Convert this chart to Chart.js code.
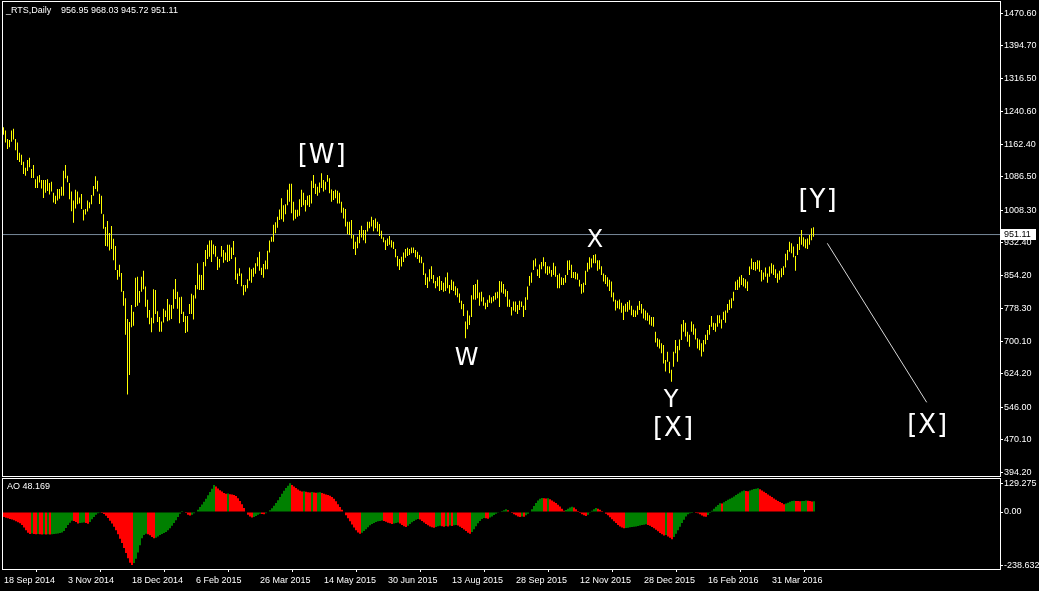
<!DOCTYPE html>
<html><head><meta charset="utf-8">
<script src="https://cdn.jsdelivr.net/npm/chart.js@4.4.0/dist/chart.umd.min.js"></script>
<style>
html,body{margin:0;padding:0;background:#000;overflow:hidden;}
#wrap{position:relative;width:1039px;height:591px;background:#000;}
canvas{position:absolute;left:0;}
#main{top:0;}
#ao{top:477px;}
</style></head><body>
<div id="wrap"><canvas id="main" width="1039" height="477"></canvas><canvas id="ao" width="1039" height="114"></canvas></div>
<script>
// ---------- DATA ----------
const symbolTitle = "_RTS,Daily";
const lastOHLC = [956.95, 968.03, 945.72, 951.11];
const aoLast = 48.169;

const lows = [
1185,1167,1152,1156,1169,1174,1149,1126,1121,1114,
1093,1089,1100,1109,1084,1084,1060,1060,1073,1059,
1037,1049,1053,1045,1052,1026,1023,1031,1035,1042,
1042,1083,1074,1034,1006,979,1012,1022,1024,1011,
984,998,1005,1013,1022,1042,1058,1052,1023,1000,
965,924,923,914,917,891,868,845,852,817,
784,716,576,622,734,737,781,784,791,817,
823,782,756,741,722,743,765,746,723,723,
745,758,748,750,753,777,800,777,743,765,
746,720,723,765,765,752,801,823,821,821,
821,877,894,899,887,905,899,868,874,899,
885,891,887,889,894,903,845,835,854,830,
809,817,825,843,838,852,859,877,866,856,
850,870,870,909,934,934,954,967,985,987,
981,999,1020,1028,1001,984,988,993,995,1016,
1020,1005,1020,1016,1024,1060,1046,1042,1049,1060,
1052,1056,1075,1048,1028,1032,1036,1024,1024,1002,
989,970,952,950,942,917,903,919,931,944,
938,931,958,966,970,959,966,958,948,941,
933,915,924,927,921,917,898,877,868,876,
887,897,901,903,907,908,898,894,885,884,
856,833,826,841,847,837,825,830,819,821,
817,819,825,813,821,819,809,804,791,776,
760,708,729,739,758,799,798,802,784,794,
784,776,781,791,790,794,798,802,781,815,
812,805,782,781,761,773,770,765,774,781,
758,774,798,831,838,868,876,854,849,870,
877,860,856,860,852,856,852,825,825,833,
833,838,856,868,849,849,846,845,829,812,
815,833,864,870,874,884,884,866,870,856,
841,835,829,819,804,794,773,778,776,768,
751,770,770,775,762,758,758,763,774,766,
754,750,749,740,737,735,698,688,684,673,
649,630,653,626,606,641,673,653,680,704,
723,712,700,688,723,716,705,684,680,665,
676,694,704,716,735,727,723,735,743,731,
751,744,768,774,778,796,821,821,827,833,
829,825,819,856,870,868,866,870,864,841,
845,852,838,852,860,856,849,838,845,851,
856,874,891,911,907,898,866,903,915,927,
923,919,917,927,938,945.72];

const highs = [
1203,1195,1175,1173,1195,1199,1175,1167,1143,1138,
1122,1108,1126,1131,1105,1114,1081,1088,1091,1079,
1079,1079,1081,1072,1075,1049,1042,1058,1058,1063,
1101,1114,1089,1072,1052,1031,1056,1052,1038,1046,
1009,1011,1031,1027,1044,1065,1088,1077,1047,1042,
999,969,983,955,971,941,924,868,880,861,
819,802,753,746,786,770,850,852,819,852,
866,829,798,774,756,823,821,771,758,747,
777,773,800,787,786,823,847,817,804,805,
770,760,760,788,812,809,833,884,857,856,
887,915,927,937,938,928,924,899,894,924,
915,909,927,927,921,936,898,860,872,860,
833,833,846,874,870,873,884,898,911,873,
882,890,913,937,946,974,980,993,1010,1036,
1020,1022,1056,1070,1070,1028,1009,1009,1034,1056,
1049,1032,1042,1044,1077,1091,1070,1063,1073,1095,
1079,1075,1091,1083,1057,1053,1056,1054,1049,1028,
1014,1011,981,981,985,950,934,946,962,972,
962,962,981,981,993,985,989,981,976,960,
945,938,942,948,938,934,917,901,894,899,
909,917,920,917,921,921,915,911,903,899,
885,860,851,870,877,856,842,851,854,842,
838,851,862,833,845,841,830,825,813,796,
788,747,773,761,809,833,835,845,815,817,
804,791,798,809,804,807,815,817,842,841,
835,823,819,799,781,794,794,786,796,794,
784,804,829,854,862,891,895,870,881,887,
898,887,877,876,868,885,877,856,860,851,
849,856,890,891,880,863,863,860,845,835,
838,866,885,898,895,903,905,891,891,877,
860,856,851,845,841,815,798,796,799,791,
784,789,793,797,784,775,773,784,795,788,
777,773,768,762,758,758,723,708,705,696,
692,657,676,653,634,676,704,690,705,741,
751,744,723,716,747,741,731,708,705,696,
704,716,727,739,760,744,743,762,762,752,
770,773,788,798,802,817,841,845,852,856,
849,846,841,876,895,887,887,891,890,868,
862,874,860,876,884,880,870,860,866,872,
877,906,915,934,931,923,901,929,946,962,
945,940,942,950,966,968.03];

const aoValues = [
-22,-26,-28,-31,-34,-37,-42,-46,-51,-58,
-70,-82,-93,-99,-97,-99,-100,-99,-100,-101,
-100,-101,-100,-101,-100,-99,-98,-97,-95,-92,
-85,-72,-58,-48,-39,-40,-45,-52,-50,-48,
-47,-50,-53,-45,-33,-22,-12,-6,-3,-5,
-9,-17,-27,-39,-52,-66,-82,-100,-120,-140,
-162,-185,-208,-228,-238.632,-230,-210,-182,-150,-118,
-103,-98,-100,-105,-112,-118,-116,-110,-104,-99,
-95,-90,-82,-73,-62,-50,-37,-22,-8,5,
2,-5,-12,-16,-12,-6,2,10,22,34,
46,60,75,90,105,121,115,106,98,92,
86,82,83,80,79,77,72,62,50,35,
18,0,-12,-20,-25,-22,-18,-12,-8,-9,
-10,-6,0,8,17,28,40,53,67,82,
96,108,118,129.275,122,115,108,101,96,92,
93,91,89,88,90,88,87,88,89,86,
82,79,76,73,68,60,48,35,22,10,
-2,-15,-28,-42,-56,-70,-82,-92,-98,-93,
-86,-78,-69,-60,-54,-49,-45,-42,-40,-38,
-40,-44,-48,-51,-54,-52,-49,-47,-52,-58,
-64,-68,-62,-54,-46,-40,-35,-31,-34,-40,
-47,-54,-60,-65,-69,-71,-67,-64,-62,-64,
-66,-63,-65,-61,-63,-60,-58,-61,-66,-72,
-79,-86,-93,-98,-90,-78,-64,-51,-40,-32,
-27,-28,-30,-25,-20,-14,-8,-3,2,5,
8,12,8,2,-5,-10,-15,-20,-22,-20,
-21,-15,-8,0,12,27,40,52,60,63,
62,61,62,57,52,46,40,33,25,15,
6,9,15,20,24,20,12,4,-4,-10,
-15,-18,-12,-3,6,12,18,15,10,4,
-2,-8,-15,-24,-33,-42,-50,-58,-65,-70,
-73,-72,-71,-69,-68,-66,-65,-63,-61,-59,
-57,-55,-58,-62,-67,-73,-80,-87,-94,-100,
-106,-104,-110,-116,-123,-112,-98,-82,-66,-50,
-35,-20,-10,-6,-4,-2,-4,-6,-10,-16,
-20,-21,-13,-4,6,15,24,32,39,38,
44,50,55,60,64,70,76,82,88,93,
97,95,93,97,100,103,105,107,102,97,
91,85,79,73,67,61,55,50,45,40,
35,38,42,46,49,51,50,49,48,49,
50,52,51,49,47,48.169];

const priceTicks = [1470.60,1394.70,1316.50,1240.60,1162.40,1086.50,1008.30,932.40,854.20,778.30,700.10,624.20,546.00,470.10,394.20];
const aoTickValues = [129.275, 0, -238.632];
const aoTickLabels = ["129.275", "0.00", "-238.632"];
const dateTickIndex = [0,32,64,96,128,160,192,224,256,288,320,352,384];
const dateTickLabels = ["18 Sep 2014","3 Nov 2014","18 Dec 2014","6 Feb 2015","26 Mar 2015","14 May 2015","30 Jun 2015","13 Aug 2015","28 Sep 2015","12 Nov 2015","28 Dec 2015","16 Feb 2016","31 Mar 2016"];

// wave annotations: bar index, price
const waveLabels = [
  {text:"[W]", bar:159.1, price:1138.8},
  {text:"W",   bar:231.6, price:664.6},
  {text:"X",   bar:295.75, price:943.0},
  {text:"Y",   bar:333.75, price:567.8},
  {text:"[X]", bar:334.75, price:499.8},
  {text:"[Y]", bar:407.0, price:1033.3},
  {text:"[X]", bar:461.85, price:506.4}
];
const trendLine = [{x:411.9, y:930.6},{x:461.6, y:557.7}];

// ---------- STYLE / LAYOUT ----------
const FONT = '"Liberation Sans", Arial, sans-serif';
const WAVEFONT = '"DejaVu Sans", Verdana, sans-serif';
const xMin = -0.75, xMax = 498.25;
const priceMin = 384.9, priceMax = 1498.8;
const aoMin = -256.5, aoMax = 153;

const n = Math.min(lows.length, highs.length);
const priceBars = [];
for (let i = 0; i < n; i++) priceBars.push({x:i, y:[lows[i], highs[i]]});
const aoBars = aoValues.map((v,i)=>({x:i, y:v}));
const aoColors = aoValues.map((v,i)=> (i>0 && v > aoValues[i-1]) ? '#008000' : '#FF0000');

function noPad(s){ s.paddingTop = 0; s.paddingBottom = 0; s.paddingLeft = 0; s.paddingRight = 0; }

function frame(chart){
  const {ctx, chartArea:a} = chart;
  ctx.save();
  ctx.strokeStyle = '#FFFFFF'; ctx.lineWidth = 1;
  ctx.strokeRect(a.left+0.5, a.top+0.5, a.right-a.left, a.bottom-a.top);
  ctx.restore();
}

const mainDecor = {
  id:'mainDecor',
  afterDraw(chart){
    const {ctx, chartArea:a, scales:{x,y}} = chart;
    frame(chart);
    ctx.save();
    ctx.fillStyle = '#FFFFFF';
    ctx.font = '9px ' + FONT;
    ctx.textBaseline = 'middle'; ctx.textAlign = 'left';
    ctx.fillText(symbolTitle, 6, 11);
    ctx.fillText(lastOHLC.map(v=>v.toFixed(2)).join(' '), 61, 11);
    // wave labels
    ctx.textAlign = 'center';
    waveLabels.forEach(l=>{
      const px = x.getPixelForValue(l.bar), py = y.getPixelForValue(l.price) + 2;
      if (l.text.length > 1) {
        ctx.font = '26px ' + WAVEFONT;
        if ('letterSpacing' in ctx) { ctx.letterSpacing = '1px'; ctx.fillText(l.text, px+0.5, py); ctx.letterSpacing = '0px'; }
        else ctx.fillText(l.text, px, py);
      } else {
        ctx.font = '24px ' + WAVEFONT;
        ctx.fillText(l.text, px, py + 0.5);
      }
    });
    // bid price box
    const by = Math.floor(y.getPixelForValue(lastOHLC[3]));
    ctx.fillStyle = '#FFFFFF';
    ctx.fillRect(a.right+1, by-5, 35, 11);
    ctx.fillStyle = '#000000';
    ctx.textAlign = 'left';
    ctx.font = '9px ' + FONT;
    ctx.fillText(lastOHLC[3].toFixed(2), a.right+4, by+0.5);
    ctx.restore();
  }
};

const aoDecor = {
  id:'aoDecor',
  afterDraw(chart){
    const {ctx} = chart;
    frame(chart);
    ctx.save();
    ctx.fillStyle = '#FFFFFF';
    ctx.font = '9px ' + FONT;
    ctx.textBaseline = 'middle'; ctx.textAlign = 'left';
    ctx.fillText('AO ' + aoLast.toFixed(3), 7, 10);
    ctx.restore();
  }
};

Chart.defaults.color = '#FFFFFF';
Chart.defaults.font.family = FONT;
Chart.defaults.font.size = 9;

new Chart(document.getElementById('main'), {
  type:'bar',
  data:{datasets:[
    {type:'line', data:[{x:xMin,y:lastOHLC[3]},{x:xMax,y:lastOHLC[3]}], borderColor:'#778899', borderWidth:1, pointRadius:0, order:3},
    {type:'bar', data:priceBars, backgroundColor:'#FFFF00', borderWidth:0, barThickness:1, inflateAmount:0, order:2},
    {type:'line', data:trendLine, borderColor:'#D8D8D8', borderWidth:1, pointRadius:0, order:1}
  ]},
  options:{
    responsive:false, animation:false, events:[],
    layout:{padding:{left:2, top:1, right:0, bottom:1}},
    plugins:{legend:{display:false}, tooltip:{enabled:false}},
    scales:{
      x:{type:'linear', min:xMin, max:xMax, offset:false, display:false},
      y:{type:'linear', position:'right', min:priceMin, max:priceMax,
         afterFit:s=>{s.width=39; noPad(s);},
         afterBuildTicks:s=>{s.ticks = priceTicks.slice().sort((a,b)=>a-b).map(v=>({value:v}));},
         ticks:{autoSkip:false, padding:1, color:'#FFFFFF', font:{size:9, family:FONT}, callback:v=>Number(v).toFixed(2)},
         grid:{drawOnChartArea:false, drawTicks:true, tickLength:3, color:'#FFFFFF'},
         border:{display:false}}
    }
  },
  plugins:[mainDecor]
});

new Chart(document.getElementById('ao'), {
  type:'bar',
  data:{datasets:[
    {data:aoBars, backgroundColor:aoColors, borderWidth:0, barThickness:2, inflateAmount:0}
  ]},
  options:{
    responsive:false, animation:false, events:[],
    layout:{padding:{left:2, top:1, right:0, bottom:0}},
    plugins:{legend:{display:false}, tooltip:{enabled:false}},
    scales:{
      x:{type:'linear', min:-1, max:498, offset:false, position:'bottom',
         afterFit:s=>{s.height=22; noPad(s);},
         afterBuildTicks:s=>{s.ticks = dateTickIndex.map(v=>({value:v}));},
         ticks:{autoSkip:false, maxRotation:0, minRotation:0, align:'start', padding:3, color:'#FFFFFF', font:{size:9, family:FONT},
                callback:(v,i)=>dateTickLabels[dateTickIndex.indexOf(v)]},
         grid:{drawOnChartArea:false, drawTicks:true, tickLength:3, color:'#FFFFFF'},
         border:{display:false}},
      y:{type:'linear', position:'right', min:aoMin, max:aoMax,
         afterFit:s=>{s.width=39; noPad(s);},
         afterBuildTicks:s=>{s.ticks = aoTickValues.slice().sort((a,b)=>a-b).map(v=>({value:v}));},
         ticks:{autoSkip:false, padding:1, color:'#FFFFFF', font:{size:9, family:FONT},
                callback:v=>aoTickLabels[aoTickValues.indexOf(v)]},
         grid:{drawOnChartArea:false, drawTicks:true, tickLength:3, color:'#FFFFFF'},
         border:{display:false}}
    }
  },
  plugins:[aoDecor]
});
</script>
</body></html>
